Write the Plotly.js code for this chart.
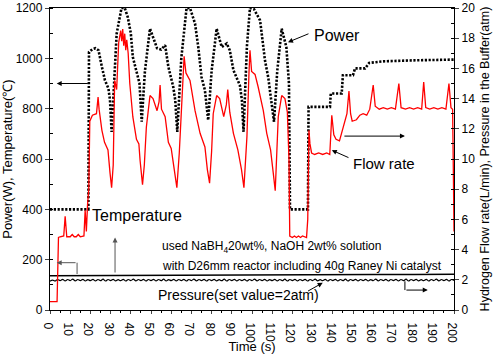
<!DOCTYPE html>
<html><head><meta charset="utf-8">
<script src="https://cdn.plot.ly/plotly-3.0.1.min.js"></script>
<style>html,body{margin:0;padding:0;background:#fff}#chart{width:500px;height:354px}</style>
</head><body><div id="chart"></div>
<script>
// Power (W), left axis
const powerT = [0,19,19.3,21,22.5,24,25.7,27.2,28.9,29.7,30.5,31.7,33,35.4,37,38.5,40,41,43,44.3,45.4,47,49.5,52,53,55,57,58.6,61,62,63,65,67.6,69.3,71.8,73.4,75,76.7,78.3,80,82.5,85,87.5,89,90.8,94,95,95.8,97.5,99,101,104,106.4,108,110.9,112.5,114.7,117,118.3,118.8,127.7,128,138.6,139,144.4,145,150,151,156,158,165,180,200];
const powerW = [400,400,1025,1036,1040,1032,966,913,881,834,708,900,1098,1200,1200,1164,1100,1005,941,901,748,950,1118,1059,1040,1035,1052,966,887,834,708,1000,1200,1200,1138,1045,926,873,754,950,1118,1045,1059,1032,953,893,834,708,1050,1200,1195,1151,993,926,748,950,1118,1045,900,400,400,807,807,860,860,933,933,960,960,982,988,992,995];

// Hydrogen flow rate (L/min), right axis
const flowT = [0,3.5,4.2,5,6.8,7.5,8.3,10,11,12,13,14,15,16.8,17.4,18,18.6,19.2,19.7,21,23,23.8,24.3,25.7,27,28.7,29.7,30.5,31.3,32,33,34,35,35.5,36,36.5,37,37.5,38,38.7,39.5,41,42.8,44,44.6,45.8,46.7,47.7,49.5,51,53,54,54.5,55.2,57,58.6,60,61.3,62.8,64,65.4,66.4,67.3,69.3,71.8,74.3,76.7,77.9,79,80,80.8,82.5,84,86,87.3,88,89,90.8,93,94.8,96,97.5,98.5,99,99.8,101.5,103,105.6,107.3,109.2,110.5,111.5,112.3,113,114.7,116.3,117.5,118.3,118.7,120,121,122,123,124,125,127,127.6,128.2,128.7,129.5,131,133,135,137,138.5,139.5,140.5,141.6,143.3,145.8,147,148,148.8,149.6,151.7,153.4,155,156.8,158.3,160,161,163,165,167,169,171,172.7,173.8,176,178,180,182,184,185,186,188,190,192,194,196,197.5,198.5,199.3,199.7,200];
const flowL = [0.55,0.55,4.8,4.85,4.9,6.2,4.85,4.85,5.0,4.85,4.85,5.0,4.85,4.9,6.6,5.2,7.0,8.0,12.5,12.9,13.0,14.1,13.3,11.9,11.1,10.6,9.1,8.1,9.6,15.2,14.6,17.7,18.5,17.8,18.6,17.5,18.3,17.2,17.9,17.0,15.0,12.8,11.3,11.0,9.9,8.3,9.6,12.1,14.2,14.0,13.2,13.8,14.9,13.3,12.8,11.1,10.7,9.5,8.1,10.4,13.9,16.8,15.7,15.2,13.2,11.7,10.8,9.3,8.4,10.5,13.0,14.2,14.0,12.8,13.6,14.6,13.1,11.7,10.6,9.3,8.1,11.5,15.7,17.2,15.8,15.6,14.8,13.2,11.7,10.6,9.1,7.9,10.5,12.8,14.2,14.0,13.1,10.0,4.9,4.8,4.9,4.8,4.9,4.8,4.9,4.8,6.0,11.9,11.0,10.4,10.3,10.4,10.3,10.4,10.3,12.9,11.6,11.3,11.2,12.5,13.0,14.5,13.0,12.5,12.6,12.9,13.0,12.9,13.3,14.9,13.5,13.3,13.4,13.3,13.4,13.3,15.0,13.4,13.3,13.4,13.3,13.4,13.3,15.1,13.4,13.3,13.4,13.3,13.4,13.3,15.0,13.4,13.3,9.0,5.2];

// Temperature (°C), left axis
const tempT = [0,20,40,60,80,100,120,140,160,180,200];
const tempC = [136,137,138,139,140,140,140,141,141,141,142];

// Pressure in buffer (atm), right axis, sampled every 1.25 s from 0 s
const pressStart = 0, pressStep = 1.25;
const pressAtm = [1.90,1.98,1.92,2.02,1.94,2.03,1.93,2.02,1.95,2.04,1.93,2.02,1.94,2.03,1.92,2.01,1.95,2.03,1.93,2.02,
1.94,2.04,1.92,2.02,1.95,2.03,1.93,2.01,1.94,2.03,1.92,2.02,1.95,2.04,1.93,2.02,1.94,2.03,1.92,2.02,
1.95,2.03,1.93,2.02,1.94,2.04,1.92,2.01,1.95,2.03,1.93,2.02,1.94,2.03,1.92,2.02,1.95,2.04,1.93,2.02,
1.94,2.03,1.92,2.02,1.95,2.03,1.93,2.01,1.94,2.04,1.92,2.02,1.95,2.03,1.93,2.02,1.94,2.03,1.92,2.02,
1.95,2.04,1.93,2.02,1.94,2.03,1.92,2.01,1.95,2.03,1.93,2.02,1.94,2.04,1.92,2.02,1.95,2.03,1.93,2.02,
1.94,2.03,1.92,2.02,1.95,2.04,1.93,2.01,1.94,2.03,1.92,2.02,1.95,2.03,1.93,2.02,1.94,2.04,1.92,2.02,
1.95,2.03,1.93,2.02,1.94,2.03,1.92,2.01,1.95,2.04,1.93,2.02,1.94,2.03,1.92,2.02,1.95,2.03,1.93,2.02,
1.94,2.04,1.92,2.02,1.95,2.03,1.93,2.01,1.94,2.03,1.92,2.02,1.95,2.04,1.93,2.02,1.94,2.03,1.92,2.02,
1.96];

const xTicks = [0,10,20,30,40,50,60,70,80,90,100,110,120,130,140,150,160,170,180,190,200];

const FONT = 'Liberation Sans, Arial, sans-serif';

const traces = [
  {x: tempT, y: tempC, type:'scatter', mode:'lines', line:{color:'#000', width:1.3}, yaxis:'y', hoverinfo:'skip'},
  {x0: pressStart, dx: pressStep, y: pressAtm, type:'scatter', mode:'lines', line:{color:'#000', width:1.2, shape:'spline'}, yaxis:'y2', hoverinfo:'skip'},
  {x: flowT, y: flowL, type:'scatter', mode:'lines', line:{color:'#ff0000', width:1.3}, yaxis:'y2', hoverinfo:'skip'},
  {x: powerT, y: powerW, type:'scatter', mode:'lines', line:{color:'#000', width:2.6, dash:'2.2px,1.6px'}, yaxis:'y', hoverinfo:'skip'}
];

function arrow(x, y, ax, ay, color, ref) {
  return {x:x, y:y, ax:ax, ay:ay, xref:'x', yref:ref||'y', axref:'x', ayref:ref||'y',
          showarrow:true, arrowhead:2, arrowsize:1, arrowwidth:1, arrowcolor:color||'#000', text:''};
}
function label(x, y, text, size) {
  return {x:x, y:y, xref:'x', yref:'y', text:text, showarrow:false, xanchor:'left', yanchor:'middle',
          font:{family:FONT, size:size, color:'#000'}};
}

const annotations = [
  arrow(3.3, 900, 19.5, 900),
  arrow(117.8, 1064, 128.7, 1100),
  label(129.5, 1092, 'Power', 16),
  arrow(139.5, 635, 148.5, 603),
  label(149, 582, 'Flow rate', 15),
  arrow(175.7, 691, 145, 691),
  label(19.6, 377, 'Temperature', 16),
  arrow(32.2, 288, 32.2, 143, '#555'),
  arrow(3.3, 188, 13.4, 188, '#555'),
  label(54.5, 250, 'used NaBH<sub>4</sub>20wt%, NaOH 2wt% solution', 12),
  label(54.5, 175, 'with D26mm reactor including 40g Raney Ni catalyst', 12),
  label(52.5, 60, 'Pressure(set value=2atm)', 14),
  arrow(135, 1.8, 127, 1.2, '#000', 'y2'),
  arrow(187, 1.32, 175.7, 1.32, '#000', 'y2')
];

const shapes = [
  {type:'line', xref:'x', yref:'y', x0:13.4, x1:13.4, y0:143, y1:188, line:{color:'#555', width:1}},
  {type:'line', xref:'x', yref:'y2', x0:175.7, x1:175.7, y0:1.9, y1:1.32, line:{color:'#000', width:1}}
];

const layout = {
  width:500, height:354,
  margin:{l:50, r:46, t:8, b:44},
  paper_bgcolor:'#fff', plot_bgcolor:'#fff',
  showlegend:false,
  font:{family:FONT, size:12, color:'#000'},
  xaxis:{range:[0,200], tickvals:xTicks, ticktext:xTicks.map(String), ticks:'outside', ticklen:3, tickwidth:1,
         showline:true, linecolor:'#000', linewidth:1.2, mirror:true, showgrid:false, zeroline:false,
         minor:{dtick:5, ticks:'outside', ticklen:2, tickcolor:'#000'},
         tickfont:{family:FONT, size:12},
         title:{text:'Time (s)', font:{family:FONT, size:13}, standoff:4}},
  yaxis:{range:[0,1200], dtick:200, ticks:'outside', ticklen:4, showline:true, linecolor:'#000', linewidth:1.2,
         showgrid:false, zeroline:false, minor:{dtick:100, ticks:'inside', ticklen:3, tickcolor:'#000'},
         tickfont:{family:FONT, size:12},
         title:{text:'Power(W), Temperature(℃)', font:{family:FONT, size:13}, standoff:8}},
  yaxis2:{range:[0,20], dtick:2, overlaying:'y', side:'right', ticks:'outside', ticklen:4, showline:true,
          linecolor:'#000', linewidth:1.2, showgrid:false, zeroline:false,
          minor:{dtick:1, ticks:'inside', ticklen:3, tickcolor:'#000'},
          tickfont:{family:FONT, size:12},
          title:{text:'Hydrogen Flow rate(L/min), Pressure in the Buffer(atm)', font:{family:FONT, size:12.5}, standoff:6}},
  annotations: annotations,
  shapes: shapes
};

Plotly.newPlot('chart', traces, layout, {staticPlot:true, displayModeBar:false});
</script>
</body></html>
